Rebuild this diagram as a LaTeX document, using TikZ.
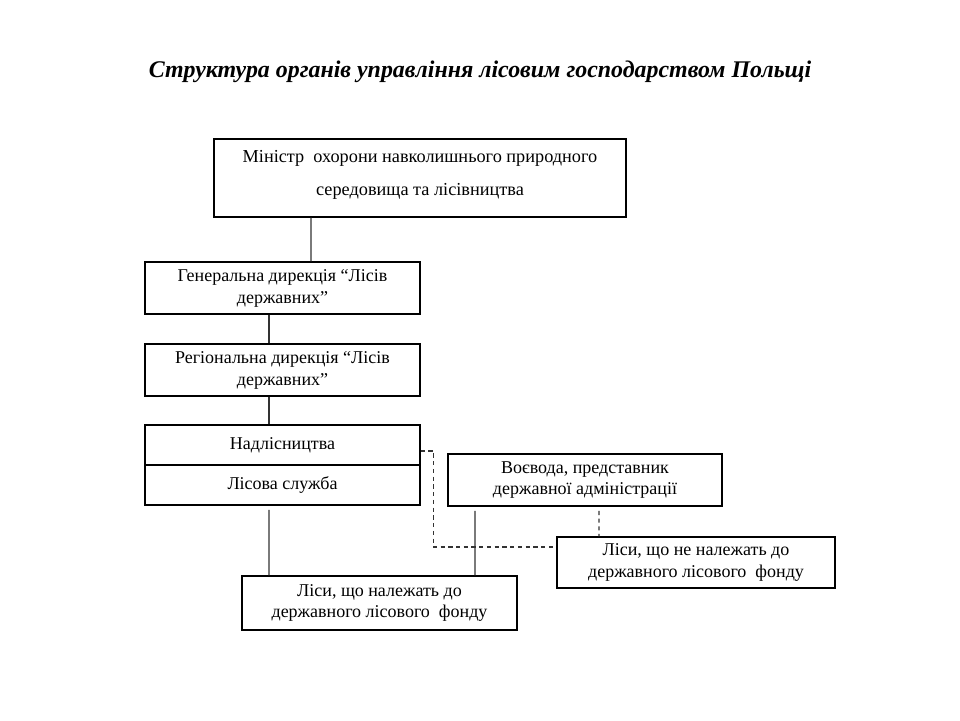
\documentclass[tikz,border=0pt]{standalone}
\usepackage{fontspec}
\setmainfont{Liberation Serif}
\usepackage{tikz}

\begin{document}
\begin{tikzpicture}[scale=1.0,
  box/.style={rectangle,draw,thick,align=center,inner sep=0pt,font=\fontsize{12.8}{15.6}\selectfont},
  link/.style={draw=black!80,thick},
  dlink/.style={draw=black!80,thick,dash pattern=on 3pt off 2.5pt}]
\useasboundingbox (0,0) rectangle (24,18);

\node[font=\fontsize{17}{20}\selectfont\bfseries\itshape] (title) at (12,16.2) {Структура органів управління лісовим господарством Польщі};

\node[box,minimum width=10.3cm,minimum height=1.95cm,font=\fontsize{13}{22.8}\selectfont] (min) at (10.5,13.55) {Міністр\ \ охорони навколишнього природного\\середовища та лісівництва\\[-15.6pt]};
\node[box,minimum width=6.875cm,minimum height=1.3cm] (gen) at (7.0625,10.8) {Генеральна дирекція “Лісів\\державних”};
\node[box,minimum width=6.875cm,minimum height=1.3cm] (reg) at (7.0625,8.75) {Регіональна дирекція “Лісів\\державних”};
\node[box,minimum width=6.875cm,minimum height=1.0cm] (nadl) at (7.0625,6.875) {Надлісництва};
\node[box,minimum width=6.875cm,minimum height=1.0cm] (sluzh) at (7.0625,5.875) {Лісова служба};
\node[box,minimum width=6.85cm,minimum height=1.3cm] (voev) at (14.625,6.0) {Воєвода, представник\\державної адміністрації};
\node[box,minimum width=6.95cm,minimum height=1.275cm] (ne) at (17.4,3.9375) {Ліси, що не належать до\\державного лісового\ \ фонду};
\node[box,minimum width=6.875cm,minimum height=1.35cm] (derzh) at (9.4875,2.925) {Ліси, що належать до\\державного лісового\ \ фонду};

\draw[link] ([xshift=-2.725cm]min.south) -- ([xshift=0.7125cm]gen.north);
\draw[link] ([xshift=-0.3375cm]gen.south) -- ([xshift=-0.3375cm]reg.north);
\draw[link] ([xshift=-0.3375cm]reg.south) -- ([xshift=-0.3375cm]nadl.north);
\draw[link,shorten <=3pt] ([xshift=-0.3375cm]sluzh.south) -- ([xshift=-2.7625cm]derzh.north);
\draw[link,shorten <=3pt] ([xshift=-2.75cm]voev.south) -- ([xshift=2.3875cm]derzh.north);
\draw[dlink,shorten <=3pt] ([xshift=0.35cm]voev.south) -- ([xshift=-2.425cm]ne.north);
\draw[dlink] ([yshift=-0.15cm]nadl.east) -- ++(0.325,0) |- ([yshift=0.3875cm]ne.west);
\end{tikzpicture}
\end{document}
